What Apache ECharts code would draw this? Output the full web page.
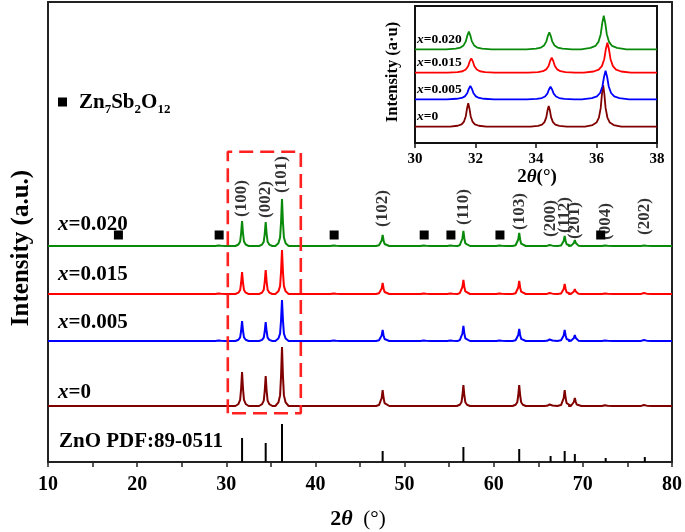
<!DOCTYPE html>
<html>
<head>
<meta charset="utf-8">
<script src="https://cdn.jsdelivr.net/npm/echarts@6/dist/echarts.min.js"></script>
<style>html,body{margin:0;padding:0;background:#fff}#c{width:685px;height:532px}</style>
</head>
<body>
<div id="c"></div>
<script>
// ---------- data ----------
const peakPos   = [31.77, 34.42, 36.25, 47.54, 56.60, 62.86, 66.38, 67.96, 69.10, 72.56, 76.95];
const hklLabels = ['(100)','(002)','(101)','(102)','(110)','(103)','(200)','(112)','(201)','(004)','(202)'];
const hklLabelBottom = [245, 244, 269, 235, 237, 232, 225, 229, 223, 222, 227];
const pdfIntensity = [24, 19, 38, 11, 15, 13, 6, 11, 8, 4, 5];

const sampleNames = ['x=0', 'x=0.005', 'x=0.015', 'x=0.020'];
const sampleColors = ['#800000', '#0000ff', '#ff0000', '#0a8a0a'];
const sampleOffsets = [56, 121, 168, 216];
const h_x0    = [34, 30, 59, 16, 21, 21, 3, 16, 8, 1.5, 2];
const h_x005  = [20, 19, 41, 11, 15, 12, 3, 11, 6, 1, 2];
const h_x015  = [22, 24, 44, 11, 14, 13, 2, 10, 5, 1, 2];
const h_x020  = [25, 24, 47, 11, 15, 13, 2, 10, 6, 1, 1];
const mainHeights = [h_x0, h_x005, h_x015, h_x020];

const impurityPos = [17.9, 29.2, 42.1, 52.2, 55.2, 60.7, 72.0];
const impurityBumpPos = [29.2, 42.1, 52.2, 55.2, 60.7];
const impurityBump = [0, 0.8, 1.2, 1.2];
const impurityMarkY = 227;

// inset (30-38 deg)
const insetOffsets = [16.3, 43.7, 70.3, 93.7];
const inset_pos_x0   = [31.76, 34.42, 36.22];
const inset_pos_x005 = [31.83, 34.48, 36.30];
const inset_pos_x015 = [31.86, 34.52, 36.36];
const inset_pos_x020 = [31.78, 34.44, 36.24];
const inset_h_x0   = [23.4, 20.7, 41.7];
const inset_h_x005 = [13.3, 12.6, 28.6];
const inset_h_x015 = [14.4, 15.0, 30.0];
const inset_h_x020 = [17.6, 17.0, 33.6];
const insetPos = [inset_pos_x0, inset_pos_x005, inset_pos_x015, inset_pos_x020];
const insetH = [inset_h_x0, inset_h_x005, inset_h_x015, inset_h_x020];
const insetWidth = [1, 1.3, 1.3, 1.25];

const xTicksMain = [10, 20, 30, 40, 50, 60, 70, 80];
const xTicksInset = [30, 32, 34, 36, 38];
const zoomBoxX = [30.17, 38.36];
const zoomBoxY = [48.7, 310.3];

// peak shape (offset in degrees, fraction of peak height)
const shapeMainDx = [-0.55, -0.3, -0.16, -0.08, 0, 0.08, 0.16, 0.3, 0.55];
const shapeMainF  = [0, 0.06, 0.18, 0.5, 1, 0.5, 0.18, 0.06, 0];
const shapeInDx = [-0.6, -0.35, -0.22, -0.14, -0.08, -0.04, 0, 0.04, 0.08, 0.14, 0.22, 0.35, 0.6];
const shapeInF  = [0, 0.04, 0.1, 0.22, 0.45, 0.78, 1, 0.78, 0.45, 0.22, 0.1, 0.04, 0];

function buildProfile(x0, x1, base, peaks, dxArr, fArr, wf) {
  const pts = [[x0, base]];
  peaks.slice().sort((a, b) => a[0] - b[0]).forEach(([p, h]) => {
    if (h <= 0) return;
    dxArr.forEach((d, i) => {
      const x = p + d * wf;
      if (x > x0 && x < x1) pts.push([x, base + h * fArr[i]]);
    });
  });
  pts.push([x1, base]);
  return pts;
}

const FONT = '"Liberation Serif","Times New Roman",serif';

const series = [];
// main curves
mainHeights.forEach((hs, k) => {
  const peaks = peakPos.map((p, i) => [p, hs[i]]);
  impurityBumpPos.forEach(p => peaks.push([p, impurityBump[k]]));
  series.push({
    type: 'line', xAxisIndex: 0, yAxisIndex: 0, showSymbol: false, silent: true,
    data: buildProfile(10, 80, sampleOffsets[k], peaks, shapeMainDx, shapeMainF, 1.35),
    lineStyle: { color: sampleColors[k], width: 2 }, z: 3
  });
});
// PDF sticks
series.push({
  type: 'bar', xAxisIndex: 0, yAxisIndex: 0, barWidth: 2, silent: true,
  data: peakPos.map((p, i) => [p, pdfIntensity[i]]),
  itemStyle: { color: '#000' }, z: 3
});
// impurity markers
series.push({
  type: 'scatter', xAxisIndex: 0, yAxisIndex: 0, symbol: 'rect', symbolSize: 9, silent: true,
  data: impurityPos.map(p => [p, impurityMarkY]),
  itemStyle: { color: '#000', opacity: 1 }, z: 4
});
// hkl labels
series.push({
  type: 'scatter', xAxisIndex: 0, yAxisIndex: 0, symbolSize: 0, silent: true,
  data: peakPos.map((p, i) => ({ value: [p, hklLabelBottom[i]], name: hklLabels[i] })),
  label: {
    show: true, position: 'inside', formatter: '{b}', rotate: 90, align: 'left', verticalAlign: 'middle',
    fontFamily: FONT, fontWeight: 'bold', fontSize: 17, color: '#000'
  }, z: 5
});
// dashed zoom box
series.push({
  type: 'line', xAxisIndex: 0, yAxisIndex: 0, showSymbol: false, silent: true,
  data: [[zoomBoxX[0], zoomBoxY[0]], [zoomBoxX[0], zoomBoxY[1]], [zoomBoxX[1], zoomBoxY[1]],
         [zoomBoxX[1], zoomBoxY[0]], [zoomBoxX[0], zoomBoxY[0]]],
  lineStyle: { color: '#ff2020', width: 2.6, type: [14, 7] }, z: 6
});
// inset curves
insetH.forEach((hs, k) => {
  const peaks = insetPos[k].map((p, i) => [p, hs[i]]);
  series.push({
    type: 'line', xAxisIndex: 1, yAxisIndex: 1, showSymbol: false, silent: true,
    data: buildProfile(30, 38, insetOffsets[k], peaks, shapeInDx, shapeInF, insetWidth[k]),
    lineStyle: { color: sampleColors[k], width: 1.8 }, z: 12
  });
});

function richSample(txt, size) {
  const rest = txt.slice(1);
  return {
    type: 'text',
    style: {
      text: '{i|x}{n|' + rest + '}',
      rich: {
        i: { fontFamily: FONT, fontStyle: 'italic', fontWeight: 'bold', fontSize: size, fill: '#000' },
        n: { fontFamily: FONT, fontWeight: 'bold', fontSize: size, fill: '#000' }
      },
      textVerticalAlign: 'middle', textAlign: 'left'
    }
  };
}

const mainLabelY = [393, 323, 275, 225];
const insetLabelY = [117, 90, 63, 40];
const graphics = [];
sampleNames.forEach((n, k) => {
  const g = richSample(n, 21); g.x = 58; g.y = mainLabelY[k]; g.z = 20;
  graphics.push(g);
  const g2 = richSample(n, 13.5); g2.x = 417; g2.y = insetLabelY[k]; g2.z = 30;
  graphics.push(g2);
});
graphics.push({
  type: 'text', x: 59, y: 442, z: 20,
  style: { text: 'ZnO PDF:89-0511', fontFamily: FONT, fontWeight: 'bold', fontSize: 21, fill: '#000', textVerticalAlign: 'middle' }
});
graphics.push({ type: 'rect', shape: { x: 58, y: 97.5, width: 9, height: 9 }, style: { fill: '#000' }, z: 20 });
graphics.push({
  type: 'text', x: 79, y: 103, z: 20,
  style: {
    text: '{a|Zn}{s|7}{a|Sb}{s|2}{a|O}{s|12}',
    rich: {
      a: { fontFamily: FONT, fontWeight: 'bold', fontSize: 21, fill: '#000', lineHeight: 26, verticalAlign: 'middle' },
      s: { fontFamily: FONT, fontWeight: 'bold', fontSize: 13, fill: '#000', lineHeight: 13, verticalAlign: 'bottom' }
    },
    textVerticalAlign: 'middle'
  }
});
graphics.push({
  type: 'text', x: 22, y: 248, rotation: Math.PI / 2, z: 20,
  style: { text: 'Intensity (a.u.)', fontFamily: FONT, fontWeight: 'bold', fontSize: 25, fill: '#000', textAlign: 'center', textVerticalAlign: 'middle' }
});
graphics.push({
  type: 'text', x: 358, y: 519, z: 20,
  style: {
    text: '{b|2}{t|θ}{r|  (°)}',
    rich: {
      b: { fontFamily: FONT, fontWeight: 'bold', fontSize: 22, fill: '#000' },
      t: { fontFamily: FONT, fontWeight: 'bold', fontStyle: 'italic', fontSize: 22, fill: '#000' },
      r: { fontFamily: FONT, fontSize: 21, fill: '#000' }
    },
    textAlign: 'center', textVerticalAlign: 'middle'
  }
});
graphics.push({
  type: 'text', x: 393, y: 72, rotation: Math.PI / 2, z: 30,
  style: { text: 'Intensity (a·u)', fontFamily: FONT, fontWeight: 'bold', fontSize: 16.5, fill: '#000', textAlign: 'center', textVerticalAlign: 'middle' }
});
graphics.push({
  type: 'text', x: 537, y: 177, z: 30,
  style: {
    text: '{b|2}{t|θ}{r|(°)}',
    rich: {
      b: { fontFamily: FONT, fontWeight: 'bold', fontSize: 19, fill: '#000' },
      t: { fontFamily: FONT, fontWeight: 'bold', fontStyle: 'italic', fontSize: 19, fill: '#000' },
      r: { fontFamily: FONT, fontWeight: 'bold', fontSize: 19, fill: '#000' }
    },
    textAlign: 'center', textVerticalAlign: 'middle'
  }
});

const chart = echarts.init(document.getElementById('c'), null, { renderer: 'canvas' });
chart.setOption({
  animation: false,
  backgroundColor: '#fff',
  grid: [
    { left: 48, top: 2, right: 13, bottom: 70, show: true, borderColor: '#222', borderWidth: 2, backgroundColor: 'transparent', z: 1 },
    { left: 415, top: 6, width: 242, height: 137, show: true, borderColor: '#111', borderWidth: 2, backgroundColor: '#fff', z: 10 }
  ],
  xAxis: [
    {
      type: 'value', gridIndex: 0, min: 10, max: 80, interval: 10,
      axisLine: { lineStyle: { color: '#222', width: 2 } },
      axisTick: { show: true, length: 5, lineStyle: { color: '#222', width: 1.5 } },
      minorTick: { show: true, splitNumber: 2, length: 5, lineStyle: { color: '#222', width: 1.5 } },
      splitLine: { show: false },
      axisLabel: { fontFamily: FONT, fontWeight: 'bold', fontSize: 20, color: '#000', margin: 13,
        formatter: v => xTicksMain.includes(v) ? String(v) : '' }
    },
    {
      type: 'value', gridIndex: 1, min: 30, max: 38, interval: 2, z: 11,
      axisLine: { lineStyle: { color: '#111', width: 2 } },
      axisTick: { show: true, length: 5, lineStyle: { color: '#111', width: 1.5 } },
      splitLine: { show: false },
      axisLabel: { fontFamily: FONT, fontWeight: 'bold', fontSize: 15, color: '#000', margin: 9,
        formatter: v => xTicksInset.includes(v) ? String(v) : '' }
    }
  ],
  yAxis: [
    { type: 'value', gridIndex: 0, min: 0, max: 460, axisLine: { show: true, lineStyle: { color: '#222', width: 2 } },
      axisTick: { show: false }, axisLabel: { show: false }, splitLine: { show: false } },
    { type: 'value', gridIndex: 1, min: 0, max: 137, z: 11, axisLine: { show: true, lineStyle: { color: '#111', width: 2 } },
      axisTick: { show: false }, axisLabel: { show: false }, splitLine: { show: false } }
  ],
  series: series,
  graphic: graphics
});
</script>
</body>
</html>
